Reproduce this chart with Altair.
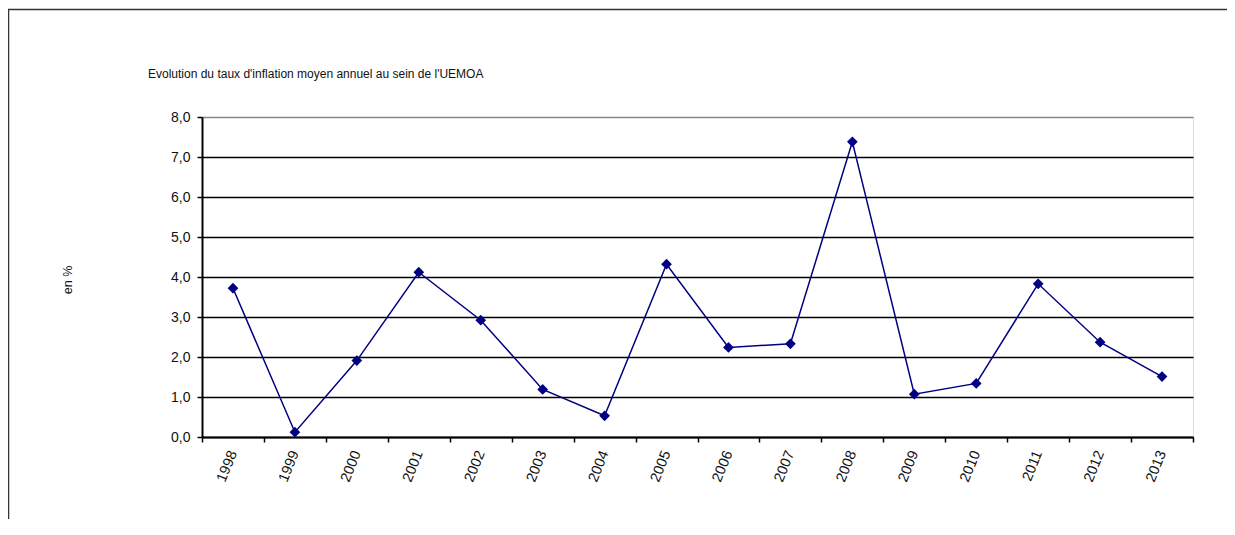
import altair as alt
import pandas as pd

years = ["1998", "1999", "2000", "2001", "2002", "2003", "2004", "2005",
         "2006", "2007", "2008", "2009", "2010", "2011", "2012", "2013"]
inflation = [3.72, 0.12, 1.91, 4.12, 2.92, 1.19, 0.53, 4.32,
             2.24, 2.33, 7.38, 1.07, 1.34, 3.83, 2.37, 1.51]
y_ticks = [0, 1, 2, 3, 4, 5, 6, 7, 8]
chart_title = "Evolution du taux d'inflation moyen annuel au sein de l'UEMOA"
y_title = "en %"

df = pd.DataFrame({"annee": years, "taux": inflation})

FONT = "Liberation Sans"
W, H = 991, 320

x_enc = alt.X(
    "annee:O",
    sort=years,
    scale=alt.Scale(paddingInner=0, paddingOuter=0),
    axis=alt.Axis(
        title=None,
        labelAngle=-68,
        labelAlign="right",
        labelBaseline="middle",
        labelFont=FONT,
        labelFontSize=14.5,
        labelColor="#111",
        labelPadding=9,
        tickBand="extent",
        tickColor="black",
        tickSize=5,
        tickWidth=1.5,
        domainColor="black",
        domainWidth=2,
        grid=False,
        labelOverlap=False,
    ),
)
y_enc = alt.Y(
    "taux:Q",
    scale=alt.Scale(domain=[0, 8], nice=False, zero=True),
    axis=alt.Axis(
        title=None,
        values=y_ticks,
        labelExpr="replace(format(datum.value, '.1f'), '.', ',')",
        labelFont=FONT,
        labelFontSize=14,
        labelColor="#111",
        labelPadding=7,
        labelOverlap=False,
        tickColor="black",
        tickSize=5,
        tickWidth=1.5,
        domainColor="black",
        domainWidth=2,
        grid=True,
        gridColor={"condition": {"test": "datum.value == 8", "value": "#888888"}, "value": "black"},
        gridWidth=1.5,
    ),
)

base = alt.Chart(df).encode(x=x_enc, y=y_enc)
line = base.mark_line(color="#000080", strokeWidth=1.5)
points = base.mark_point(shape="diamond", filled=True, size=115, color="#000080", opacity=1)

one = pd.DataFrame({"t": [chart_title]})
title_txt = alt.Chart(one).mark_text(
    font=FONT, fontSize=12, align="left", baseline="middle", color="#111"
).encode(text="t:N", x=alt.value(-54), y=alt.value(-43))

ylab = alt.Chart(pd.DataFrame({"t": [y_title]})).mark_text(
    font=FONT, fontSize=12.5, angle=270, align="center", baseline="middle", color="#111"
).encode(text="t:N", x=alt.value(-134), y=alt.value(163))

box_top = alt.Chart(one).mark_rule(color="#333", strokeWidth=1.5).encode(
    x=alt.value(-194), x2=alt.value(1025), y=alt.value(-107.5)
)
box_left = alt.Chart(one).mark_rule(color="#333", strokeWidth=1.5).encode(
    x=alt.value(-193.5), y=alt.value(-107.5), y2=alt.value(402)
)

chart = alt.layer(line, points, title_txt, ylab, box_top, box_left).properties(
    width=W,
    height=H,
    autosize=alt.AutoSizeParams(type="none"),
    padding={"left": 194, "top": 109, "right": 34, "bottom": 90},
).configure_view(stroke="#888888", strokeWidth=1.5).configure(background="white")

chart.save("out.html", embed_options={"renderer": "svg", "actions": False})
